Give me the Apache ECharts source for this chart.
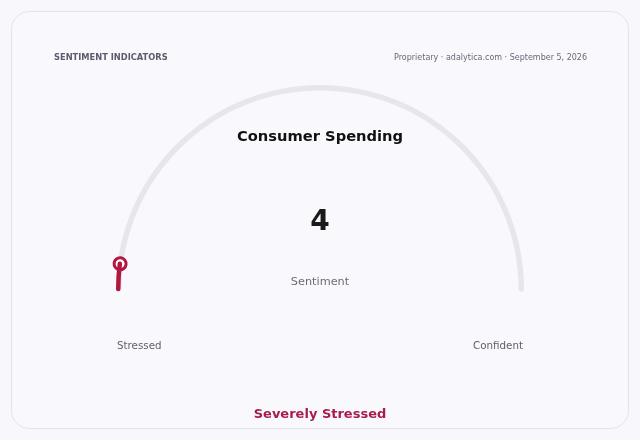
<!DOCTYPE html>
<html>
<head>
<meta charset="utf-8">
<script src="https://cdn.jsdelivr.net/npm/echarts@6/dist/echarts.min.js"></script>
<style>
html,body{margin:0;padding:0;background:#f8f8fc;}
#chart{width:640px;height:440px;}
</style>
</head>
<body>
<div id="chart"></div>
<script>
// ---- data ----
const indicatorName = 'Consumer Spending';
const metricLabel = 'Sentiment';
const values = [4];
const scaleRange = [0, 100];
const endLabels = ['Stressed', 'Confident'];
const statusText = 'Severely Stressed';
const headerLeft = 'SENTIMENT INDICATORS';
const headerRight = 'Proprietary · adalytica.com · September 5, 2026';

const FONT = 'DejaVu Sans';
const CRIMSON = '#b3163f';
const R = 204;

const chart = echarts.init(document.getElementById('chart'));
chart.setOption({
  backgroundColor: '#f8f8fc',
  animation: false,
  graphic: [
    { type: 'rect', shape: { x: 11.5, y: 11.5, width: 617, height: 417, r: 18 },
      style: { fill: '#f9f9fd', stroke: '#e2e2ea', lineWidth: 1 }, z: -1 },
    { type: 'text', style: { text: headerLeft, x: 54, y: 58, align: 'left', verticalAlign: 'middle',
      font: 'bold 8.3px "DejaVu Sans"', fill: '#5b5b6e' } },
    { type: 'text', style: { text: headerRight, x: 587, y: 58, align: 'right', verticalAlign: 'middle',
      font: '8px "DejaVu Sans"', fill: '#666a78' } },
    { type: 'text', style: { text: indicatorName, x: 320, y: 137.5, align: 'center', verticalAlign: 'middle',
      font: 'bold 14.7px "DejaVu Sans"', fill: '#111111' } },
    { type: 'text', style: { text: endLabels[0], x: 117, y: 346, align: 'left', verticalAlign: 'middle',
      font: '10.3px "DejaVu Sans"', fill: '#5f5f6a' } },
    { type: 'text', style: { text: endLabels[1], x: 523, y: 346, align: 'right', verticalAlign: 'middle',
      font: '10.3px "DejaVu Sans"', fill: '#5f5f6a' } },
    { type: 'text', style: { text: statusText, x: 320, y: 414.5, align: 'center', verticalAlign: 'middle',
      font: 'bold 13px "DejaVu Sans"', fill: '#a81b4b' } }
  ],
  series: [{
    type: 'gauge',
    center: [320, 289],
    radius: R,
    startAngle: 180,
    endAngle: 0,
    min: scaleRange[0],
    max: scaleRange[1],
    axisLine: { roundCap: true, lineStyle: { width: 5.5, color: [[1, '#e6e6ec']] } },
    progress: { show: true, width: 4.5, roundCap: true, itemStyle: { color: CRIMSON } },
    pointer: {
      show: true, icon: 'circle', width: 12, length: 12,
      offsetCenter: [0, -(R - 2.5) + 6],
      itemStyle: { color: '#ffffff', borderColor: CRIMSON, borderWidth: 3 }
    },
    anchor: { show: false },
    axisTick: { show: false },
    splitLine: { show: false },
    axisLabel: { show: false },
    title: { show: true, offsetCenter: [0, -7], fontFamily: FONT, fontSize: 11.3, color: '#6b6b78' },
    detail: { show: true, offsetCenter: [0, -66], formatter: '{value}', fontFamily: FONT,
      fontSize: 28, fontWeight: 'bold', color: '#1a1a1a' },
    data: values.map(v => ({ value: v, name: metricLabel }))
  }]
});
</script>
</body>
</html>
